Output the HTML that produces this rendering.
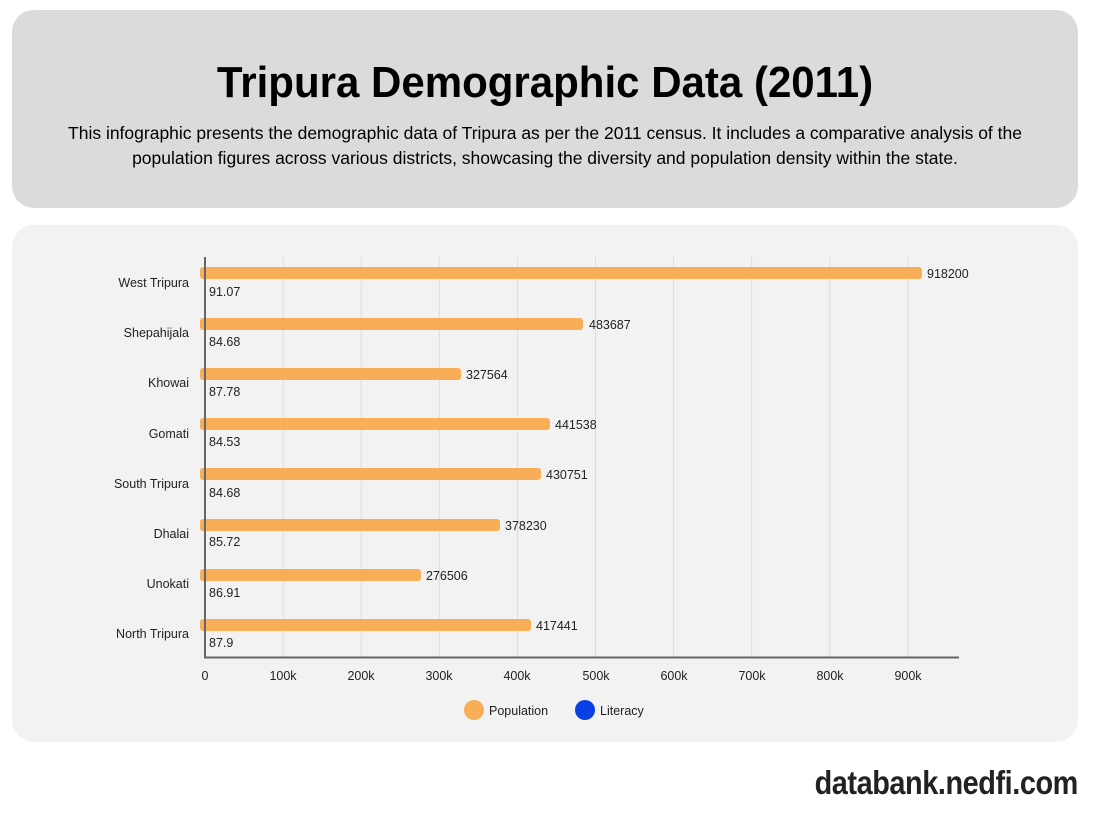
<!DOCTYPE html>
<html><head><meta charset="utf-8"><style>
body{margin:0;width:1096px;height:834px;background:#fff;font-family:"Liberation Sans",sans-serif;position:relative;overflow:hidden}
.hdr{position:absolute;left:12px;top:10px;width:1066px;height:198px;background:#dcdbda;border-radius:22px;text-align:center}
.hdr h1{margin:0;position:absolute;top:48px;width:100%;font-size:44px;line-height:50px;font-weight:bold;color:#000;transform:scaleX(0.955)}
.hdr p{position:absolute;top:111px;left:50px;right:50px;margin:0;font-size:17.5px;line-height:25px;color:#000}
.card{position:absolute;left:12px;top:225px;width:1066px;height:517px;background:#f2f2f2;border-radius:22px}
.brand{position:absolute;right:18px;top:764px;font-size:33px;font-weight:bold;color:#222;letter-spacing:-0.5px;transform:scaleX(0.875);transform-origin:right center}
</style></head><body>
<div class="hdr"><h1>Tripura Demographic Data (2011)</h1>
<p>This infographic presents the demographic data of Tripura as per the 2011 census. It includes a comparative analysis of the population figures across various districts, showcasing the diversity and population density within the state.</p></div>
<div class="card"></div>
<svg width="1096" height="834" style="position:absolute;left:0;top:0" font-family="Liberation Sans,sans-serif" font-size="12.5" fill="#222">
<g stroke="#dcdcdc" stroke-width="1">
<line x1="283.1" y1="257" x2="283.1" y2="657"/><line x1="361.2" y1="257" x2="361.2" y2="657"/><line x1="439.3" y1="257" x2="439.3" y2="657"/><line x1="517.4" y1="257" x2="517.4" y2="657"/><line x1="595.5" y1="257" x2="595.5" y2="657"/><line x1="673.6" y1="257" x2="673.6" y2="657"/><line x1="751.7" y1="257" x2="751.7" y2="657"/><line x1="829.8" y1="257" x2="829.8" y2="657"/><line x1="907.9" y1="257" x2="907.9" y2="657"/>
</g>
<g fill="#f8ae57">
<rect x="200" y="267" width="722" height="12" rx="3"/>
<rect x="200" y="318" width="383" height="12" rx="3"/>
<rect x="200" y="368" width="261" height="12" rx="3"/>
<rect x="200" y="418" width="350" height="12" rx="3"/>
<rect x="200" y="468" width="341" height="12" rx="3"/>
<rect x="200" y="519" width="300" height="12" rx="3"/>
<rect x="200" y="569" width="221" height="12" rx="3"/>
<rect x="200" y="619" width="331" height="12" rx="3"/>
</g>
<line x1="205" y1="257" x2="205" y2="658" stroke="#666" stroke-width="2"/>
<line x1="204" y1="657.5" x2="959" y2="657.5" stroke="#666" stroke-width="2"/>
<g text-anchor="end">
<text x="189" y="287">West Tripura</text><text x="189" y="337">Shepahijala</text><text x="189" y="387">Khowai</text><text x="189" y="438">Gomati</text><text x="189" y="488">South Tripura</text><text x="189" y="538">Dhalai</text><text x="189" y="588">Unokati</text><text x="189" y="638">North Tripura</text>
</g>
<g>
<text x="927" y="278">918200</text><text x="589" y="329">483687</text><text x="466" y="379">327564</text><text x="555" y="429">441538</text><text x="546" y="479">430751</text><text x="505" y="530">378230</text><text x="426" y="580">276506</text><text x="536" y="630">417441</text>
<text x="209" y="296">91.07</text><text x="209" y="346">84.68</text><text x="209" y="396">87.78</text><text x="209" y="446">84.53</text><text x="209" y="497">84.68</text><text x="209" y="546">85.72</text><text x="209" y="597">86.91</text><text x="209" y="647">87.9</text>
</g>
<g text-anchor="middle">
<text x="205" y="680">0</text><text x="283" y="680">100k</text><text x="361" y="680">200k</text><text x="439" y="680">300k</text><text x="517" y="680">400k</text><text x="596" y="680">500k</text><text x="674" y="680">600k</text><text x="752" y="680">700k</text><text x="830" y="680">800k</text><text x="908" y="680">900k</text>
</g>
<circle cx="474" cy="710" r="10" fill="#f8ae57"/><text x="489" y="715">Population</text>
<circle cx="585" cy="710" r="10" fill="#0b3fe6"/><text x="600" y="715">Literacy</text>
</svg>
<div class="brand">databank.nedfi.com</div>
</body></html>
